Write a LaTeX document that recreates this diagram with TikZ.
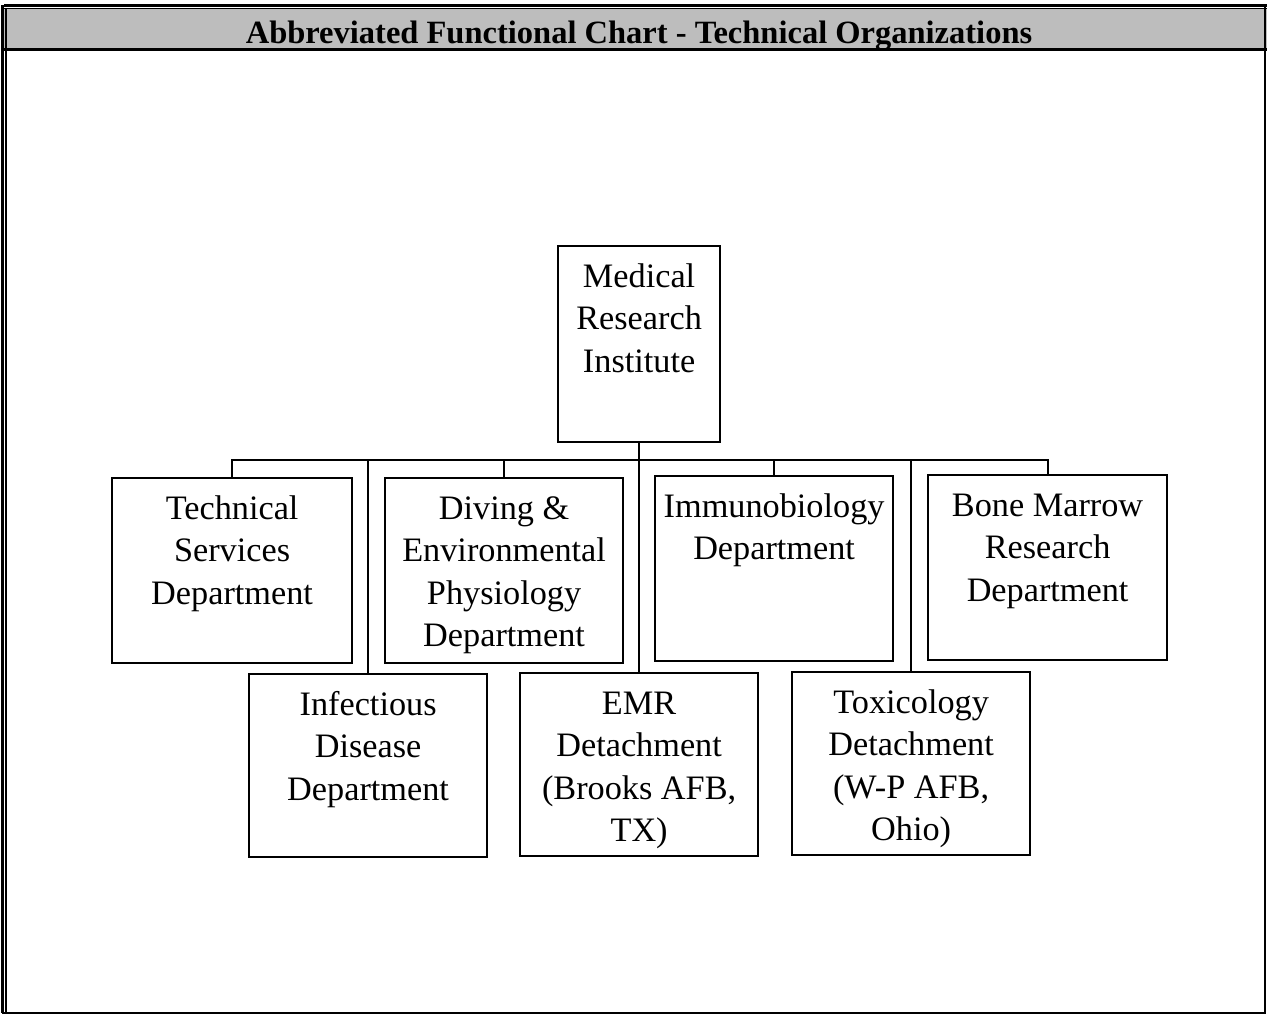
\documentclass[tikz,border=0pt]{standalone}
\usepackage{fontspec}
\setmainfont{Liberation Serif}
\newcommand\pxl[1]{\dimexpr 0.02cm*#1\relax}
\newcommand\orgtext[3]{\parbox[t][\pxl{#2}][t]{\pxl{#1}}{\centering\fontsize{19.5}{24.2}\selectfont\rule{0pt}{23.3pt}#3}}
\begin{document}
\begin{tikzpicture}[x=0.02cm,y=-0.02cm,
  orgbox/.style={draw, line width=1.25pt, inner sep=0pt, anchor=north west},
  link/.style={line width=1.1pt},
  frame/.style={line width=1.3pt}]
\useasboundingbox (0,0) rectangle (1267,1015);
% title bar
\fill[black!26] (4,9) rectangle (1267,49);
\draw[line width=1.4pt] (4,5.5) -- (1267,5.5);
\draw[line width=0.9pt] (4,8.5) -- (1267,8.5);
\draw[line width=1.3pt] (4,49.5) -- (1267,49.5);
\node[font=\fontsize{18.5}{20}\selectfont\bfseries, anchor=base] (title) at (639,43) {Abbreviated Functional Chart - Technical Organizations};
% outer frame
\draw[frame] (2.5,5) -- (2.5,1013);
\draw[line width=0.8pt] (6,9) -- (6,1013);
\draw[frame] (2.5,1013) -- (1265,1013) -- (1265,5);
% boxes
\node[orgbox] (mri) at (557,245) {\orgtext{162}{196}{Medical\\Research\\Institute}};
\node[orgbox] (ts) at (111,477) {\orgtext{240}{185}{Technical\\Services\\Department}};
\node[orgbox] (div) at (384,477) {\orgtext{238}{185}{Diving \&\\Environmental\\Physiology\\Department}};
\node[orgbox] (imm) at (654,475) {\orgtext{238}{185}{Immunobiology\\Department}};
\node[orgbox] (bone) at (927,474) {\orgtext{239}{185}{Bone Marrow\\Research\\Department}};
\node[orgbox] (inf) at (248,673) {\orgtext{238}{183}{Infectious\\Disease\\Department}};
\node[orgbox] (emr) at (519,672) {\orgtext{238}{183}{EMR\\Detachment\\(Brooks AFB,\\TX)}};
\node[orgbox] (tox) at (791,671) {\orgtext{238}{183}{Toxicology\\Detachment\\(W-P AFB,\\Ohio)}};
% connectors
\coordinate (bus) at (0,460);
\draw[link] (mri.south) -- (emr.north);
\draw[link] (ts.north) -- (ts.north |- bus) -- (bone.north |- bus) -- (bone.north);
\draw[link] (div.north) -- (div.north |- bus);
\draw[link] (imm.north) -- (imm.north |- bus);
\draw[link] (inf.north) -- (inf.north |- bus);
\draw[link] (tox.north) -- (tox.north |- bus);
\end{tikzpicture}
\end{document}
